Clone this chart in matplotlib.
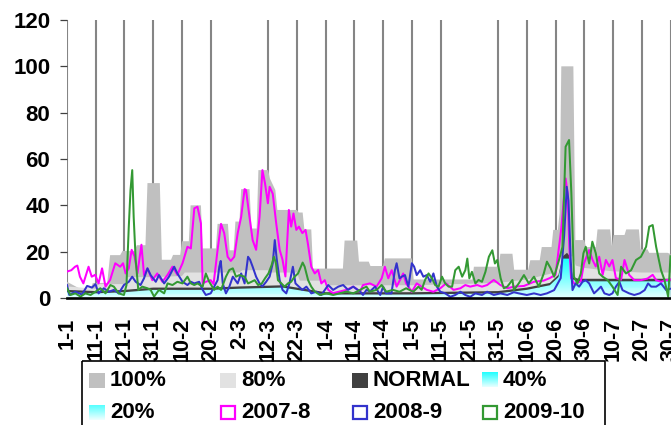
import numpy as np
import matplotlib
matplotlib.use('Agg')
import matplotlib.pyplot as plt
from matplotlib.colors import LinearSegmentedColormap
from matplotlib.patches import Rectangle, Polygon

plt.rcParams['font.family'] = ['Liberation Sans', 'DejaVu Sans']
plt.rcParams['font.weight'] = 'bold'

# ---------------- data ----------------
tick_days = list(range(0, 211, 10))
tick_labels = ['1-1', '11-1', '21-1', '31-1', '10-2', '20-2', '2-3', '12-3', '22-3',
               '1-4', '11-4', '21-4', '1-5', '11-5', '21-5', '31-5', '10-6', '20-6',
               '30-6', '10-7', '20-7', '30-7']
no_grid_labels = ['2-3', '21-5']
y_ticks = [0, 20, 40, 60, 80, 100, 120]

p100_days = [0, 3, 5, 8, 9, 14, 15, 18.5, 19.3, 23.5, 24.3, 27.3, 28, 32.3, 33, 36.2, 36.9, 39.4,
             40, 42.4, 43, 46.6, 47.2, 51.8, 52.4, 56, 56.6, 58, 58.6, 60, 60.6, 63.5, 64.2, 66,
             66.6, 70, 70.6, 72.5, 73.2, 80, 80.6, 82, 82.6, 85, 85.6, 96, 96.6, 101, 101.6, 105,
             105.6, 110, 110.6, 120, 120.6, 141, 141.6, 150.2, 150.8, 155, 155.6, 160.5, 161.2,
             164.5, 165.2, 168.6, 169.2, 170.8, 171.4, 172, 176.2, 176.9, 180, 180.6, 184, 184.6,
             189, 189.6, 190.2, 194, 194.6, 199, 199.6, 202, 202.6, 209, 210]
p100_vals = [7, 5, 3.6, 3.6, 6.5, 6.5, 18.5, 18.5, 20.3, 20.3, 22.8, 22.8, 49.6, 49.6, 16.5, 16.5,
             18.6, 18.6, 24.5, 24.5, 40, 40, 21.4, 21.4, 32, 32, 20.6, 20.6, 33, 33, 47, 47, 30, 30,
             55.2, 55.2, 51.6, 46.6, 38, 38, 36.9, 36.9, 29.6, 29.6, 12.7, 12.7, 24.8, 24.8, 15.7,
             15.7, 13.8, 13.8, 17.1, 17.1, 8, 8, 13.5, 13.5, 19.1, 19.1, 12.2, 12.2, 16.3, 16.3,
             22, 22, 29.4, 29.4, 36.6, 100, 100, 25, 25, 22, 22, 29.6, 29.6, 22.5, 27.2, 27.2,
             29.6, 29.6, 21, 21, 19.5, 19.5, 19]

p80_days = [0, 10, 11, 20, 21, 30, 40, 41, 50, 60, 61, 70, 71, 80, 81, 90, 91, 120, 150, 160,
            165, 170, 171, 176, 177, 180, 190, 200, 210]
p80_vals = [5, 4, 6, 6, 9, 9, 9.5, 11, 11, 11, 12, 12, 11, 11, 7.5, 7.5, 5.5, 5.5, 6.5, 8, 9.5,
            11, 18, 18, 14, 13, 11.5, 11, 11]

normal_days = [0, 10, 20, 30, 50, 60, 75, 80, 90, 120, 150, 160, 168, 171, 172.5, 174, 175, 176,
               178, 210]
normal_vals = [3.5, 3, 3.5, 4.5, 4.5, 5, 5.5, 4.5, 2.5, 2.5, 3, 4.5, 6.5, 10, 18, 19.5, 18, 9,
               8.3, 8.3]

p40_days = [0, 10, 20, 30, 50, 60, 75, 80, 90, 120, 150, 160, 168, 171, 172.5, 175, 176, 178, 210]
p40_vals = [2.5, 2, 2.5, 3.5, 3.5, 4, 4.5, 3.5, 1.5, 1.5, 2, 3.5, 5.5, 9, 17, 17, 8, 7.2, 7.2]

p20_days = [0, 30, 60, 80, 90, 150, 165, 171, 172.5, 175, 176, 178, 210]
p20_vals = [1, 1.5, 2, 1.5, 0.8, 1, 2.5, 6, 12, 12, 5, 4.5, 4.5]

s0708_days = [0, 1.5, 2.8, 3.6, 4.5, 5.7, 7.5, 8.6, 9.8, 11, 12.2, 13.4, 15, 16.8, 18.5, 19.5,
              20.4, 21.5, 22.5, 23.5, 24.5, 25.9, 26.8, 28, 29.7, 31.4, 33.2, 35, 36.7, 38.4,
              40.2, 41.9, 43.1, 44.3, 45.4, 46.6, 47.2, 48.3, 50, 51, 52.4, 53.6, 54.7, 55.9, 57,
              58.2, 59.4, 60.6, 61.8, 62.3, 63.5, 64.6, 65.8, 67, 68, 68.9, 69.9, 70.5, 71.6,
              72.8, 74, 75, 76, 77.2, 78, 78.8, 79.8, 80.7, 81.9, 83, 83.8, 85, 86.2, 87.4, 88.5,
              89.7, 90.9, 92.6, 94.9, 97.2, 99.6, 102, 103, 105.4, 107.7, 109.5, 110.6, 111.8,
              113, 114.7, 117, 118, 120, 121.7, 123.4, 125.2, 127.5, 129.9, 131.9, 134.5, 136.9,
              138.6, 140.3, 142.7, 144.4, 146.2, 148.5, 150.8, 153.2, 155.5, 159, 162.5, 165.9,
              168, 170, 172, 173.5, 174.2, 174.8, 175.4, 176.6, 178.8, 179.9, 181.7, 182.9, 184,
              185.2, 186.4, 187.5, 188.7, 189.8, 191, 192.8, 194, 195.6, 197.4, 199.7, 202,
              203.8, 205, 206.7, 208.5, 210]
s0708_vals = [11.4, 12, 13.5, 14, 9.2, 6.3, 13.5, 9.2, 10, 6.3, 12.8, 4.9, 7.8, 15, 13.5, 15,
              10.6, 12.8, 20.8, 18, 10.6, 23, 9.9, 12.8, 7.7, 10.6, 7, 10, 13.5, 10, 15, 22.1,
              21.4, 38.7, 39.4, 32.2, 6.3, 7, 7.7, 6, 20.8, 32, 28, 17.8, 16, 17.8, 28, 35, 47,
              46.6, 35, 25, 20.8, 35, 55.2, 49.5, 40.9, 48, 45, 32.2, 20.8, 16.5, 9.3, 38, 30.8,
              36.5, 29.4, 30.8, 28, 29.4, 23.6, 13.5, 10.6, 12.1, 6.3, 7.7, 3.5, 2.1, 2.8, 3.5,
              4.9, 2.8, 5.6, 6.3, 4.9, 8.5, 13.5, 8.5, 12, 4.9, 10.6, 6.3, 2.7, 6.3, 4.9, 3.5,
              2.7, 4.2, 6.3, 3.5, 4.2, 5.6, 4.9, 5.6, 4.9, 5.6, 7.8, 5.6, 4.2, 4.9, 5.2, 7, 7.5,
              8.6, 10, 30, 51.6, 45.2, 22, 8.6, 6, 7.2, 15, 20.7, 16.4, 13.6, 17.8, 10, 16.4,
              13.6, 16.4, 8.6, 7.9, 16.4, 10, 7.7, 7.7, 8.4, 10, 7.7, 7, 7.7, 8]

s0809_days = [0, 0.8, 2.9, 5.2, 7, 8.7, 9.9, 11, 12.8, 14.6, 16.3, 18, 19.8, 21.5, 22.7, 23.9,
              25.6, 26.8, 28, 29.1, 30.9, 32, 33.8, 35.5, 37.3, 38.4, 40.2, 41.9, 43.1, 44.3, 46,
              47.2, 48.3, 50, 51.2, 52.4, 53, 53.5, 54.2, 55.3, 56.5, 57.7, 59.4, 60.6, 61.8, 63,
              63.7, 64.6, 65.8, 67, 68, 69.3, 70.5, 71.6, 72.3, 73, 74, 75, 76.3, 77.4, 78.6,
              79.5, 80.7, 81.9, 83.3, 85, 86.8, 88.5, 90.9, 92.6, 94.4, 96.1, 97.8, 99.6, 102,
              103, 104.2, 105.4, 107.2, 109, 110, 111, 112.9, 114.1, 114.7, 115.7, 116.5, 117.6,
              118.8, 120, 120.8, 121.7, 122.9, 124, 125.2, 126.4, 127.5, 128.7, 129.9, 131.6,
              133.4, 135.1, 136.9, 138.6, 140.3, 142.1, 144.4, 146.2, 148.5, 150.8, 153.2, 155.5,
              157.2, 160, 162.5, 164.8, 167, 169.5, 171.8, 173, 173.9, 174.5, 175.3, 175.9, 177,
              178.2, 179.4, 180.5, 181.7, 183.4, 184.6, 185.8, 187, 188.7, 189.8, 191, 192.2,
              193.3, 195.6, 197.4, 199.3, 201, 202.2, 203.3, 205, 206.7, 208.5, 210]
s0809_vals = [5.6, 1.3, 2.7, 1.5, 5.2, 4.5, 6, 2, 4.2, 2.7, 3.5, 2, 5.6, 7, 9.2, 7, 5.6, 8.5, 12.8,
              9.9, 7, 9.9, 6.3, 9.2, 13.5, 10.6, 7, 5.6, 7, 6.3, 7, 3.5, 1.3, 2, 4.9, 7.7, 13.5,
              16, 6.3, 2, 4.9, 9.2, 6.3, 10.6, 6.3, 17.8, 16.5, 13.5, 9.2, 6.3, 5, 7, 9.2, 15, 25,
              16.5, 7.7, 3.5, 2, 6.3, 13.5, 6.3, 4.9, 3.5, 4.9, 2, 2.7, 1.3, 5.6, 3.5, 4.9, 5.6,
              3.5, 4.9, 2.8, 1.3, 3.5, 2.8, 4.9, 1.3, 4.9, 2, 2, 12, 15, 8.5, 9.2, 9.9, 4.9, 15,
              13.5, 9.9, 12, 9.2, 9.9, 7, 10.6, 4.9, 2.7, 2, 0.5, 1.3, 2.7, 1.3, 0.5, 2, 1.3, 2.7,
              1.3, 2, 1.3, 2.5, 2, 1.3, 2, 1.3, 2, 3.4, 8.6, 27, 48, 42, 16, 3.4, 6.3, 4.9, 7,
              7.7, 6.3, 2, 3.4, 4.9, 2, 1.3, 2, 4.9, 7, 3.4, 2, 1.3, 2, 3.4, 6.3, 4.9, 4.9, 6.3,
              3.4, 4]

s0910_days = [0, 1.2, 2.9, 4.7, 6.4, 8.2, 9.9, 11.6, 13.4, 15.1, 16.3, 18, 19.8, 20.7, 21.5,
              22.1, 22.7, 23.2, 23.9, 24.8, 26.2, 28, 29.1, 30.3, 32, 33.8, 35, 36.7, 38.4, 40.2,
              41.9, 43.1, 44.3, 45.4, 47.2, 48.3, 49.5, 51.2, 52.4, 53.6, 55.3, 56.5, 57.7, 58.8,
              60, 61.8, 63, 64.2, 65.3, 66.5, 67.8, 68.9, 70.1, 71.2, 72, 72.7, 73.4, 74.6, 75.7,
              76.9, 78, 79.2, 80.4, 81.6, 82, 82.7, 83.9, 85, 86.2, 88, 90.3, 92.6, 94.9, 97.2,
              99.6, 102, 103, 104.2, 105.4, 107.7, 109.5, 111.1, 113.4, 115.7, 118, 120.5, 122.3,
              123.4, 124.6, 125.8, 127, 128.1, 129.3, 130.5, 131.6, 132.8, 134, 135.1, 136.3,
              137.5, 138.6, 139.3, 140, 140.9, 142.1, 143.2, 144.4, 145.6, 146.8, 148, 148.9,
              149.7, 150.9, 152, 153.2, 155, 155.5, 157.2, 159, 160.7, 162.5, 164.2, 165.9, 167,
              168.3, 169.5, 171.2, 172.4, 173.5, 174.7, 175.5, 176.4, 177.6, 178.8, 179.7, 180.5,
              181.7, 182.8, 184, 185.2, 186.4, 188.1, 189.8, 191.6, 192.8, 194.5, 196.3, 198,
              199.7, 201.5, 202.6, 203.8, 205, 206.7, 207.9, 209.2, 210]
s0910_vals = [4.2, 1.3, 2, 0.6, 2, 1.3, 2.7, 4.2, 2, 5.6, 4.9, 2, 1.3, 5.6, 30.8, 46.6, 55.2, 35,
              16.5, 3.5, 4.9, 4.2, 3.5, 0.6, 3.5, 2, 6.3, 5.6, 7, 6.3, 9.2, 6.3, 5.6, 6.3, 4.9,
              10.6, 7, 3.5, 4.9, 3.5, 9.2, 12.1, 12.8, 9.2, 9.9, 9.2, 6.3, 7, 7.7, 5.6, 6.3, 8.5,
              10.6, 14.2, 17.8, 15, 7.7, 6.3, 4.9, 6.3, 7, 9.2, 10.6, 14.2, 15.3, 13.5, 7.7, 4.9,
              2.8, 1.3, 2, 1.3, 2, 2.8, 2, 3.5, 4.2, 4.9, 2.7, 3.5, 5.6, 2.7, 3.5, 2.7, 4.2, 2.7,
              4.9, 3.5, 7.8, 10.6, 8.5, 5.6, 4.9, 9.2, 6.3, 4.9, 4.9, 12, 13.5, 9.2, 12, 17, 8.5,
              11.3, 6.3, 7.8, 7, 11.3, 17.8, 20.6, 14.9, 16.4, 8.5, 4.2, 4.9, 7.8, 3.4, 6.3, 9.9,
              6.3, 9.2, 4.9, 10.6, 15.7, 12.8, 9.2, 16.4, 22, 65.3, 68.2, 45.2, 9.2, 6.3, 10.6,
              19.3, 22.1, 14.9, 24.3, 19.3, 10.6, 9.2, 7.8, 4.9, 1.3, 13.5, 10.6, 12, 16.4, 17.8,
              22.1, 30.8, 31.5, 22.1, 12, 7.8, 0.5, 18]

# ---------------- figure ----------------
W, H = 671, 425
fig = plt.figure(figsize=(W / 100, H / 100), dpi=100)
ax = fig.add_axes([67 / W, 1 - 298 / H, (670.5 - 67) / W, (298 - 20) / H])

c100 = '#c0c0c0'
c80 = '#e2e2e2'
cnorm = '#404040'
c0708 = '#ff00ff'
c0809 = '#3333cc'
c0910 = '#339933'

grid_days = [d for d, l in zip(tick_days, tick_labels) if l not in no_grid_labels]
ax.vlines(grid_days, 0, 120, colors='#858585', linewidth=1.5, zorder=0.5)

ax.fill_between(p100_days, 0, p100_vals, facecolor=c100, linewidth=0, zorder=1)
ax.fill_between(p80_days, 0, p80_vals, facecolor=c80, linewidth=0, zorder=2)
ax.fill_between(normal_days, 0, normal_vals, facecolor=cnorm, linewidth=0, zorder=3)


def gradient_area(days, vals, bottom, top, vmax, z):
    verts = [(days[0], 0)] + list(zip(days, vals)) + [(days[-1], 0)]
    poly = Polygon(verts, closed=True, facecolor='none', edgecolor='none',
                   transform=ax.transData)
    ax.add_patch(poly)
    cmap = LinearSegmentedColormap.from_list('g', [bottom, top])
    grad = np.linspace(0, 1, 256).reshape(-1, 1)
    im = ax.imshow(grad, extent=[days[0], days[-1], 0, vmax], origin='lower',
                   aspect='auto', cmap=cmap, zorder=z, interpolation='bilinear')
    im.set_clip_path(poly)


gradient_area(p40_days, p40_vals, '#d4ffff', '#00ffff', 19, 4)
gradient_area(p20_days, p20_vals, '#e6ffff', '#40ffff', 13, 5)

ax.plot(s0708_days, s0708_vals, color=c0708, linewidth=1.45, zorder=6)
ax.plot(s0809_days, s0809_vals, color=c0809, linewidth=1.45, zorder=7)
ax.plot(s0910_days, s0910_vals, color=c0910, linewidth=1.45, zorder=8)

ax.set_xlim(0, 210)
ax.set_ylim(0, 120)

for s in ['left', 'top', 'right']:
    ax.spines[s].set_visible(False)
ax.spines['bottom'].set_linewidth(1.9)
ax.spines['bottom'].set_color('black')
ax.spines['bottom'].set_zorder(10)

ax.set_xticks(tick_days)
ax.set_xticklabels(tick_labels, rotation=90, fontsize=15.5, fontweight='bold')
ax.tick_params(axis='x', which='major', length=0, pad=14)
ax.set_xticks(grid_days, minor=True)
ax.tick_params(axis='x', which='minor', length=6, width=1.2, color='black', direction='out')

ax.set_yticks(y_ticks)
ax.set_yticklabels([str(v) for v in y_ticks], fontsize=16, fontweight='bold')
ax.tick_params(axis='y', length=5, width=0.9, color='#404040', pad=7)

# ---------------- legend (drawn in pixel space) ----------------
lax = fig.add_axes([0, 0, 1, 1], zorder=5)
lax.set_xlim(0, W)
lax.set_ylim(H, 0)
lax.axis('off')
lax.add_patch(Rectangle((82, 361), 523, 90, fill=False, edgecolor='black', linewidth=1.2))

legend_items = [
    ('100%', 'fill', c100), ('80%', 'fill', c80), ('NORMAL', 'fill', cnorm),
    ('40%', 'grad', ('#e8ffff', '#20ffff')),
    ('20%', 'grad', ('#f0ffff', '#55ffff')), ('2007-8', 'open', c0708),
    ('2008-9', 'open', c0809), ('2009-10', 'open', c0910),
]
col_x = [89, 220, 352, 482]
row_y = [380, 412.5]
for i, (label, kind, col) in enumerate(legend_items):
    cx = col_x[i % 4]
    cy = row_y[i // 4]
    x0, y0, w, h = cx, cy - 7.5, 16, 15
    if kind == 'fill':
        lax.add_patch(Rectangle((x0, y0), w, h, facecolor=col, edgecolor='none'))
    elif kind == 'grad':
        cmap = LinearSegmentedColormap.from_list('lg', [col[1], col[0]])
        lax.imshow(np.linspace(0, 1, 64).reshape(-1, 1), extent=[x0, x0 + w, y0 + h, y0],
                   origin='upper', aspect='auto', cmap=cmap, interpolation='bilinear')
    else:
        lax.add_patch(Rectangle((x0 + 1, y0 + 1), w - 2, h - 2, facecolor='white',
                                edgecolor=col, linewidth=1.6))
    lax.text(cx + 21, cy, label, fontsize=16, fontweight='bold', va='center', ha='left',
             color='black')
lax.set_xlim(0, W)
lax.set_ylim(H, 0)

fig.savefig('out.png', dpi=100)
